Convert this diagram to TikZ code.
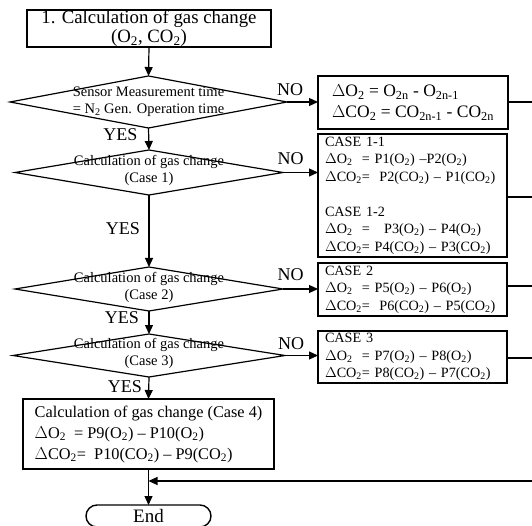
\documentclass[tikz,border=0pt]{standalone}
\usepackage{fontspec}
\setmainfont{Liberation Serif}
\usetikzlibrary{arrows.meta,shapes.geometric}
\newcommand{\sbs}[1]{\textsubscript{#1}}
\tikzset{
  conn/.style={line width=1.2pt},
  arr/.style={line width=1.2pt,-{Triangle[length=9pt,width=8pt]}},
  box/.style={draw,line width=1.4pt,inner sep=0pt,outer sep=0pt},
  dia/.style={draw,diamond,line width=1.2pt,inner sep=0pt,outer sep=0pt},
  lbl/.style={inner sep=0pt,font=\fontsize{18}{18}\selectfont},
  diatxt/.style={inner sep=0pt,align=center,font=\fontsize{14.5}{17}\selectfont},
  rbox/.style={box,align=left,text width=175pt,inner xsep=7pt,minimum width=189pt,font=\fontsize{14.2}{17.5}\selectfont},
}
\begin{document}
\begin{tikzpicture}[x=1pt,y=-1pt]
\useasboundingbox (0,0) rectangle (532,526);
% main column
\node[box,minimum width=244pt,minimum height=37pt,align=center,font=\fontsize{18.8}{19}\selectfont] (top) at (149,28.5) {1. Calculation of gas change\\(O\sbs{2}, CO\sbs{2})};
\node[dia,minimum width=277pt,minimum height=52pt] (d1) at (148.5,102) {};
\node[diatxt] (t1) at (d1.center) {Sensor Measurement time\\= N\sbs{2} Gen. Operation time};
\node[dia,minimum width=268pt,minimum height=45pt] (d2) at (149,172.5) {};
\node[diatxt] (t2) at ([yshift=2pt]d2.center) {Calculation of gas change\\(Case 1)};
\node[dia,minimum width=268pt,minimum height=44pt] (d3) at (149,289) {};
\node[diatxt] (t3) at ([yshift=2pt]d3.center) {Calculation of gas change\\(Case 2)};
\node[dia,minimum width=272pt,minimum height=43pt] (d4) at (149,355.5) {};
\node[diatxt] (t4) at ([yshift=2pt]d4.center) {Calculation of gas change\\(Case 3)};
\node[box,minimum width=251pt,minimum height=70pt,align=left,font=\fontsize{16.3}{21}\selectfont] (c4) at (148.5,434) {Calculation of gas change (Case 4)\\
$\Delta$O\sbs{2}\ \ = P9(O\sbs{2}) -- P10(O\sbs{2})\\
$\Delta$CO\sbs{2}=\ \ P10(CO\sbs{2}) -- P9(CO\sbs{2})};
\node[box,minimum width=125pt,minimum height=22pt,rounded corners=11pt,font=\fontsize{19}{19}\selectfont] (end) at (148.5,516) {End};
% right column
\node[box,minimum width=190pt,minimum height=53pt,align=left,font=\fontsize{17.5}{21}\selectfont] (b1) at (413,102.5) {$\Delta$O\sbs{2} = O\sbs{2n} - O\sbs{2n-1}\\$\Delta$CO\sbs{2} = CO\sbs{2n-1} - CO\sbs{2n}};
\node[rbox,minimum height=123pt] (b2) at (412.5,195.5) {CASE 1-1\\
$\Delta$O\sbs{2}\ \ = P1(O\sbs{2}) --P2(O\sbs{2})\\
$\Delta$CO\sbs{2}=\ \ P2(CO\sbs{2}) -- P1(CO\sbs{2})\\[17.5pt]
CASE 1-2\\
$\Delta$O\sbs{2}\ \ =\ \ \ P3(O\sbs{2}) -- P4(O\sbs{2})\\
$\Delta$CO\sbs{2}= P4(CO\sbs{2}) -- P3(CO\sbs{2})};
\node[rbox,minimum height=53pt] (b3) at (412.5,289.5) {CASE 2\\
$\Delta$O\sbs{2}\ \ = P5(O\sbs{2}) -- P6(O\sbs{2})\\
$\Delta$CO\sbs{2}=\ \ P6(CO\sbs{2}) -- P5(CO\sbs{2})};
\node[rbox,minimum height=52pt] (b4) at (412.5,357) {CASE 3\\
$\Delta$O\sbs{2}\ \ = P7(O\sbs{2}) -- P8(O\sbs{2})\\
$\Delta$CO\sbs{2}= P8(CO\sbs{2}) -- P7(CO\sbs{2})};
% free ends at the right edge
\coordinate (r1) at (532,102);
\coordinate (r2) at (532,197);
\coordinate (r3) at (532,286);
\coordinate (r4) at (532,358);
\coordinate (r5) at (532,481);
% labels
\node[lbl] (no1) at (290,90) {NO};
\node[lbl] (no2) at (290.5,159) {NO};
\node[lbl] (no3) at (290.5,275) {NO};
\node[lbl] (no4) at (291,344) {NO};
\node[lbl] (yes1) at (120.5,135) {YES};
\node[lbl] (yes2) at (123,229) {YES};
\node[lbl] (yes3) at (122,318) {YES};
\node[lbl] (yes4) at (125,387) {YES};
% connectors
\draw[arr] (top.south) -- (d1.north);
\draw[arr] (d1.south) -- (d2.north);
\draw[arr] (d2.south) -- (d3.north);
\draw[arr] (d3.south) -- (d4.north);
\draw[arr] (d4.south) -- (c4.north);
\draw[arr] (c4.south) -- (end.north);
\draw[arr] (d1.east) -- (d1.east -| b1.west);
\draw[arr] (d2.east) -- (d2.east -| b2.west);
\draw[arr] (d3.east) -- (d3.east -| b3.west);
\draw[arr] (d4.east) -- (d4.east -| b4.west);
\draw[conn] (b1.east |- r1) -- (r1);
\draw[conn] (b2.east |- r2) -- (r2);
\draw[conn] (b3.east |- r3) -- (r3);
\draw[conn] (b4.east |- r4) -- (r4);
\draw[arr] (r5) -- (r5 -| c4.south);
\end{tikzpicture}
\end{document}
